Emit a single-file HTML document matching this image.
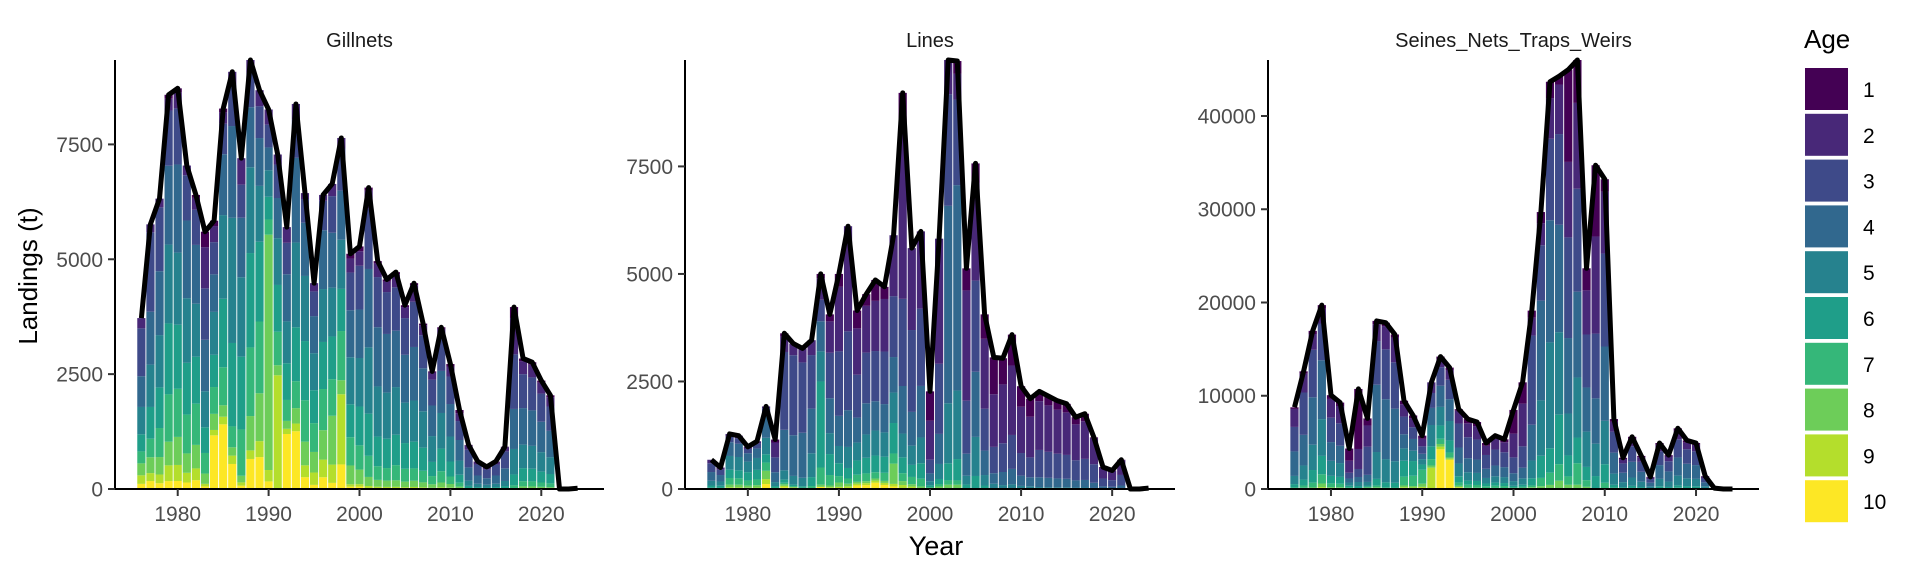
<!DOCTYPE html>
<html><head><meta charset="utf-8">
<style>
html,body{margin:0;padding:0;background:#fff;}
svg{display:block;font-family:"Liberation Sans",Arial,sans-serif;}
</style></head>
<body>
<svg id="chart" width="1920" height="576" viewBox="0 0 1920 576" xmlns="http://www.w3.org/2000/svg">
<text x="0" y="0" transform="translate(37,276) rotate(-90)" text-anchor="middle" font-size="26" fill="#000">Landings (t)</text>
<text x="936" y="555" text-anchor="middle" font-size="27" fill="#000">Year</text>
<g id="legend"></g>
</svg>
<script>
const years = [];
for (let y = 1976; y <= 2024; y++) years.push(y);
const ageLabels = ['1','2','3','4','5','6','7','8','9','10'];
const ageColors = ['#440154','#482878','#3E4A89','#31688E','#26828E','#1F9E89','#35B779','#6DCD59','#B4DE2C','#FDE725'];

const gillnetsTotals = [3720,5760,6320,8580,8720,7040,6400,5600,5840,8280,9080,7200,9337,8680,8260,7280,5700,8380,6440,4480,6400,6640,7640,5120,5280,6560,4960,4560,4720,4000,4480,3600,2560,3520,2720,1720,960,600,480,600,920,3960,2840,2760,2360,2040,0,0,15];
const linesTotals = [680,500,1280,1240,980,1110,1920,1150,3620,3380,3270,3460,5000,4060,5000,6110,4150,4530,4860,4700,5900,9210,5600,5990,2270,5820,9974,9950,5130,7570,4060,3060,3040,3590,2390,2100,2270,2160,2050,1980,1670,1750,1200,510,430,680,0,0,20];
const seinesTotals = [8760,12620,16960,19720,10060,9270,4340,10730,7570,18030,17830,16570,9470,7890,5720,11440,14200,13020,8560,7500,7180,4930,5720,5330,8480,11440,19130,29700,43670,44260,44970,46005,23670,34720,33220,7500,3350,5600,3550,1300,4930,3630,6510,5210,4930,1380,100,0,0];

const gillnetsShares = [
[0,6,28,18,16,10,7,7,5,3],[0,3,30,20,16,12,7,6,3,3],[0,3,22,22,18,14,10,6,3,2],[1,3,14,20,20,18,12,6,4,2],
[1,4,14,22,18,16,12,7,4,2],[0,3,14,24,20,16,12,6,3,2],[1,4,12,20,18,16,14,8,4,3],[6,16,20,20,14,10,8,4,1,1],
[2,6,12,14,16,12,10,6,2,20],[1,3,8,16,22,18,10,3,2,17],[0,3,10,22,30,20,5,2,2,6],[0,8,10,18,24,22,14,2,1,1],
[0,3,8,14,20,22,16,8,2,7],[0,4,8,12,14,20,18,12,4,8],[0,4,6,6,7,6,4,62,3,2],[0,3,10,12,14,14,10,3,34,0],
[0,6,12,18,16,14,8,3,2,21],[0,4,10,22,22,14,7,4,2,15],[0,2,8,18,22,20,14,8,4,4],[0,4,12,18,18,16,14,10,6,2],
[0,2,10,20,18,16,14,10,6,4],[0,4,12,18,16,14,12,16,6,2],[0,3,12,14,14,12,14,4,20,7],[2,6,16,20,20,14,12,8,1,1],
[2,6,18,20,20,16,10,6,1,1],[1,6,20,26,22,14,7,3,1,0],[1,6,22,26,22,13,6,3,1,0],[1,5,20,28,22,14,6,3,1,0],
[1,6,20,26,22,14,7,3,1,0],[1,6,20,26,22,14,7,3,1,0],[1,8,22,26,20,13,6,3,1,0],[1,6,20,26,22,14,7,3,1,0],
[1,6,22,26,22,12,7,3,1,0],[1,6,20,26,22,14,7,3,1,0],[2,8,22,26,20,12,6,3,1,0],[4,10,24,26,18,10,5,2,1,0],
[1,10,40,30,12,5,2,0,0,0],[1,10,40,30,12,5,2,0,0,0],[1,10,40,30,12,5,2,0,0,0],[1,10,40,30,12,5,2,0,0,0],
[1,10,40,30,12,5,2,0,0,0],[6,20,30,22,14,6,2,0,0,0],[2,10,26,28,18,10,4,2,0,0],[2,10,26,28,18,10,4,2,0,0],
[2,10,26,28,18,10,4,2,0,0],[2,10,26,28,18,10,4,2,0,0],[2,10,26,28,18,10,4,2,0,0],[2,10,26,28,18,10,4,2,0,0],
[2,10,26,28,18,10,4,2,0,0]];

const linesShares = [
[0,12,30,30,16,8,4,0,0,0],[0,10,25,30,20,10,5,0,0,0],[0,5,10,25,25,15,12,5,2,1],[0,5,10,25,25,15,12,5,2,1],
[0,5,10,20,25,20,12,5,2,1],[0,5,10,20,25,20,12,5,2,1],[0,2,10,26,20,10,10,10,6,6],[6,30,30,20,8,3,2,1,0,0],
[2,10,50,26,6,2,1,1,1,1],[0,8,55,28,6,1,1,0,0,1],[0,10,50,32,6,1,1,0,0,0],[0,10,36,30,16,6,2,0,0,0],
[2,10,10,14,14,40,8,1,0,1],[4,18,26,20,12,12,6,1,1,0],[6,30,30,14,8,6,3,2,1,0],[0,40,30,14,8,4,2,1,1,0],
[10,26,24,14,10,8,4,1,1,2],[6,24,26,16,12,8,4,1,1,2],[10,24,24,14,12,8,3,1,1,3],[6,26,26,14,12,8,4,1,1,2],
[0,24,24,14,12,12,4,8,1,1],[8,44,22,12,6,4,2,1,1,0],[0,34,34,14,8,5,3,1,1,0],[0,30,30,20,10,6,3,1,0,0],
[30,40,14,8,4,2,1,1,0,0],[0,50,28,12,6,2,1,1,0,0],[0,8,26,46,14,4,1,1,0,0],[3,6,20,48,16,5,1,1,0,0],
[10,50,24,10,4,2,0,0,0,0],[6,30,28,20,12,4,0,0,0,0],[14,40,24,14,6,2,0,0,0,0],[28,40,20,8,4,0,0,0,0,0],
[20,45,22,10,3,0,0,0,0,0],[20,45,22,10,3,0,0,0,0,0],[20,45,22,10,3,0,0,0,0,0],[20,45,22,10,3,0,0,0,0,0],
[10,50,28,10,2,0,0,0,0,0],[10,50,28,10,2,0,0,0,0,0],[10,50,28,10,2,0,0,0,0,0],[10,50,28,10,2,0,0,0,0,0],
[10,50,28,10,2,0,0,0,0,0],[10,50,28,10,2,0,0,0,0,0],[2,50,36,10,2,0,0,0,0,0],[2,50,36,10,2,0,0,0,0,0],
[2,50,36,10,2,0,0,0,0,0],[2,50,36,10,2,0,0,0,0,0],[2,50,36,10,2,0,0,0,0,0],[2,50,36,10,2,0,0,0,0,0],
[2,50,36,10,2,0,0,0,0,0]];

const seinesShares = [
[2,22,30,30,10,4,2,0,0,0],[2,16,36,26,12,5,2,1,0,0],[2,10,30,30,16,8,3,1,0,0],[2,8,20,32,20,10,5,2,1,0],
[4,20,26,20,16,8,4,1,1,0],[4,20,26,20,16,8,4,1,1,0],[30,30,14,10,8,4,2,1,1,0],[60,20,8,5,4,2,1,0,0,0],
[10,30,40,10,5,2,1,1,0,1],[2,10,26,40,16,4,1,1,0,0],[2,14,30,36,14,3,1,0,0,0],[2,16,30,34,14,3,1,0,0,0],
[4,14,20,16,14,18,10,2,1,1],[4,12,16,16,14,20,14,2,1,1],[6,14,14,10,10,10,26,6,2,2],[0,10,14,16,20,12,6,2,20,0],
[2,6,14,16,14,10,4,2,2,30],[2,8,16,18,16,10,4,1,1,24],[2,16,30,20,16,8,4,2,0,2],[6,20,30,20,12,6,4,1,1,0],
[6,20,30,20,12,6,4,1,1,0],[6,20,30,20,12,6,4,1,1,0],[6,20,30,20,12,6,4,1,1,0],[6,20,30,20,12,6,4,1,1,0],
[30,30,20,10,6,2,1,1,0,0],[20,40,20,10,6,2,1,1,0,0],[4,10,50,20,10,4,1,1,0,0],[4,8,20,36,20,8,3,1,0,0],
[4,10,20,30,26,6,3,1,0,0],[2,12,22,26,20,12,4,2,0,0],[22,18,24,18,10,5,2,1,0,0],[10,20,24,20,14,6,5,1,0,0],
[10,20,24,20,16,6,3,1,0,0],[22,30,20,14,10,4,0,0,0,0],[4,20,30,24,14,6,2,0,0,0],[4,14,30,30,16,4,2,0,0,0],
[4,14,30,30,16,4,2,0,0,0],[4,14,30,30,16,4,2,0,0,0],[4,14,30,30,16,4,2,0,0,0],[4,14,30,30,16,4,2,0,0,0],
[4,14,30,30,16,4,2,0,0,0],[4,14,30,30,16,4,2,0,0,0],[4,14,30,30,16,4,2,0,0,0],[4,14,30,30,16,4,2,0,0,0],
[4,14,30,30,16,4,2,0,0,0],[4,14,30,30,16,4,2,0,0,0],[4,14,30,30,16,4,2,0,0,0],[4,14,30,30,16,4,2,0,0,0],
[4,14,30,30,16,4,2,0,0,0]];

const gillnetsTicks = [0,2500,5000,7500];
const linesTicks = [0,2500,5000,7500];
const seinesTicks = [0,10000,20000,30000,40000];
const xTicks = [1980,1990,2000,2010,2020];

const NS = 'http://www.w3.org/2000/svg';
const svg = document.getElementById('chart');
function mk(tag, attrs, parent){
  const e = document.createElementNS(NS, tag);
  for (const k in attrs) e.setAttribute(k, attrs[k]);
  (parent||svg).appendChild(e);
  return e;
}

const panels = [
  {key:'gillnets', title:'Gillnets', left:115, right:604, totals:gillnetsTotals, shares:gillnetsShares, ticks:gillnetsTicks},
  {key:'lines', title:'Lines', left:685, right:1175, totals:linesTotals, shares:linesShares, ticks:linesTicks},
  {key:'seines', title:'Seines_Nets_Traps_Weirs', left:1268, right:1759, totals:seinesTotals, shares:seinesShares, ticks:seinesTicks}
];
const TOP = 60, BASE = 489, XMIN = 1973.1, XMAX = 2026.9;

panels.forEach(p => {
  const g = mk('g', {});
  
  
  const yMax = Math.max(...p.totals);
  const xs = v => p.left + (v - XMIN) / (XMAX - XMIN) * (p.right - p.left);
  const ys = v => BASE - v / yMax * (BASE - TOP);
  const bw = (xs(1) - xs(0)) * 0.9;

  const title = mk('text', {x:(p.left+p.right)/2, y:47, 'text-anchor':'middle', 'font-size':20, fill:'#1a1a1a'}, g);
  title.textContent = p.title;
  
  

  years.forEach((yr, i) => {
    const T = p.totals[i];
    if (T <= 0) return;
    const sh = p.shares[i];
    const sum = sh.reduce((a,b)=>a+b,0);
    let cum = 0;
    for (let a = 9; a >= 0; a--) {
      if (sh[a] <= 0) continue;
      const v = T * sh[a] / sum;
      const y1 = ys(cum), y2 = ys(cum + v);
      const r = mk('rect', {x:xs(yr)-bw/2, y:y2, width:bw, height:Math.max(0,y1-y2), fill:ageColors[a]}, g);
      
      
      cum += v;
    }
  });

  const pts = years.map((yr,i) => xs(yr).toFixed(1) + ',' + ys(p.totals[i]).toFixed(1)).join(' ');
  const line = mk('polyline', {points:pts, fill:'none', stroke:'#000', 'stroke-width':5, 'stroke-linejoin':'round'}, g);
  
  

  const ya = mk('line', {x1:p.left, y1:TOP, x2:p.left, y2:BASE+1, stroke:'#000', 'stroke-width':2}, g);
  
  
  const xa = mk('line', {x1:p.left-1, y1:BASE, x2:p.right, y2:BASE, stroke:'#000', 'stroke-width':2}, g);
  
  

  p.ticks.forEach(t => {
    const y = ys(t);
    mk('line', {x1:p.left-7, y1:y, x2:p.left, y2:y, stroke:'#333', 'stroke-width':2}, g);
    const tl = mk('text', {x:p.left-12, y:y+7.5, 'text-anchor':'end', 'font-size':21, fill:'#4d4d4d'}, g);
    tl.textContent = t;
    
    
  });
  xTicks.forEach(t => {
    const x = xs(t);
    mk('line', {x1:x, y1:BASE, x2:x, y2:BASE+7, stroke:'#333', 'stroke-width':2}, g);
    const tl = mk('text', {x:x, y:521, 'text-anchor':'middle', 'font-size':21, fill:'#4d4d4d'}, g);
    tl.textContent = t;
    
    
  });
});

const lg = document.getElementById('legend');
const lt = mk('text', {x:1804, y:48, 'font-size':26, fill:'#000'}, lg);
lt.textContent = 'Age';


ageLabels.forEach((lab, i) => {
  const y = 68 + i * 45.8;
  const r = mk('rect', {x:1805, y:y, width:43, height:42, fill:ageColors[i]}, lg);
  
  
  const t = mk('text', {x:1863, y:y+29, 'font-size':21, fill:'#000'}, lg);
  t.textContent = lab;
  
  
});
</script>
</body></html>
